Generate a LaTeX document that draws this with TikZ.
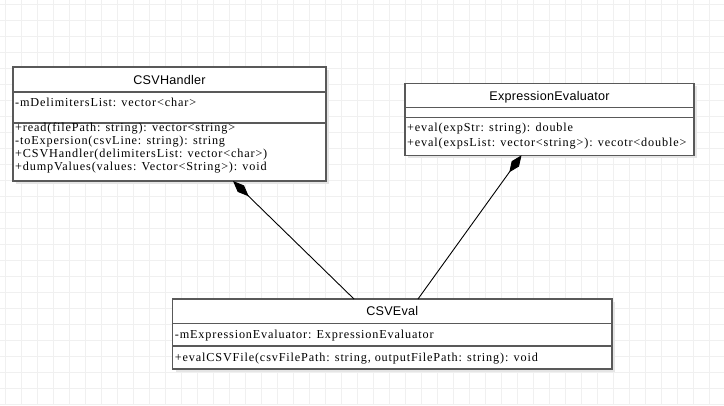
\documentclass[tikz,border=0pt]{standalone}
\usepackage{fontspec}
\setmainfont{Liberation Serif}[LetterSpace=7]
\newfontfamily\titlefont{Liberation Sans}[LetterSpace=2]
\usetikzlibrary{arrows.meta,shadows}
\begin{document}
\begin{tikzpicture}[x=1pt,y=-1pt,
  gridline/.style={draw=black!6,line width=1pt},
  umlbox/.style={draw=black!65,line width=1.2pt,fill=white,inner sep=0pt,outer sep=0pt,anchor=north west,
    drop shadow={shadow xshift=3pt,shadow yshift=-3pt,fill=black!10,opacity=1}},
  sepline/.style={draw=black!65,line width=1.2pt},
  title/.style={font=\titlefont\fontsize{12.6}{14}\selectfont,anchor=base,inner sep=0pt},
  txt/.style={font=\fontsize{12.2}{14}\selectfont,anchor=base west,inner sep=0pt},
  comp/.style={draw=black,line width=0.9pt,-{Diamond[length=22pt,width=9pt,fill=black]}}
]
\useasboundingbox (0,0) rectangle (724,405);
\fill[white] (0,0) rectangle (724,405);
\foreach \gx in {5,21,...,724} \draw[gridline] (\gx,0) -- (\gx,405);
\foreach \gy in {4,20,...,405} \draw[gridline] (0,\gy) -- (724,\gy);

% CSVHandler
\node[umlbox,minimum width=313pt,minimum height=114pt] (h) at (13,67) {};
\draw[sepline] (13,92) -- (326,92);
\draw[sepline] (13,123) -- (326,123);
\node[title] (ht) at (169.5,84) {CSVHandler};
\node[txt] (ha) at (15,106.7) {-mDelimitersList: vector<char>};
\node[txt] (hm1) at (15,131.6) {+read(filePath: string): vector<string>};
\node[txt] (hm2) at (15,144.5) {-toExpersion(csvLine: string): string};
\node[txt] (hm3) at (15,157.4) {+CSVHandler(delimitersList: vector<char>)};
\node[txt] (hm4) at (15,170.5) {+dumpValues(values: Vector<String>): void};

% ExpressionEvaluator
\node[umlbox,minimum width=289pt,minimum height=72pt] (x) at (405,83.3) {};
\draw[sepline] (405,107.3) -- (694,107.3);
\draw[sepline] (405,117.7) -- (694,117.7);
\node[title] (xt) at (549.5,100) {ExpressionEvaluator};
\node[txt] (xm1) at (407,131.7) {+eval(expStr: string): double};
\node[txt] (xm2) at (407,146.7) {+eval(expsList: vector<string>): vecotr<double>};

% CSVEval
\node[umlbox,minimum width=439.3pt,minimum height=70pt] (e) at (172.7,299) {};
\draw[sepline] (172.7,323.3) -- (612,323.3);
\draw[sepline] (172.7,346) -- (612,346);
\node[title] (et) at (392.3,315.5) {CSVEval};
\node[txt] (ea) at (174.7,338.3) {-mExpressionEvaluator: ExpressionEvaluator};
\node[txt] (em) at (174.7,361.7) {+evalCSVFile(csvFilePath: string, outputFilePath: string): void};

% connectors
\coordinate (e1) at (354,299);
\coordinate (e2) at (418,299);
\coordinate (hd) at (233,181);
\coordinate (xd) at (521.5,155.3);
\draw[comp] (e1) -- (hd);
\draw[comp,-{Diamond[length=21pt,width=9pt,fill=black]}] (e2) -- (xd);
\end{tikzpicture}
\end{document}
